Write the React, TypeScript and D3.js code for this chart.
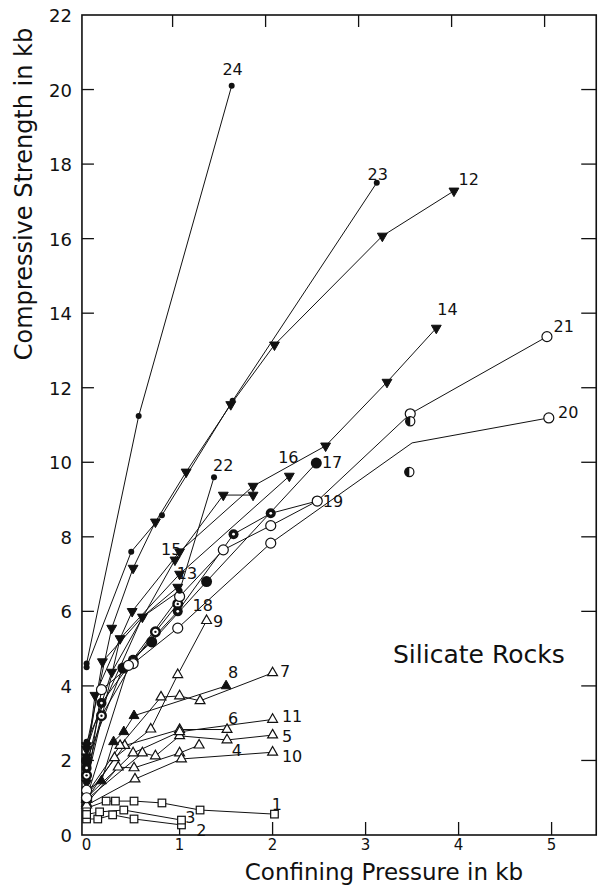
import React, { useEffect, useRef } from 'react';
import * as d3 from 'd3';

type Pt = [number, number];

// series: [confining pressure kb, compressive strength kb]
const s1: Pt[] = [[0, 0.72], [0.21, 0.91], [0.31, 0.91], [0.51, 0.91], [0.81, 0.86], [1.22, 0.67], [2.02, 0.56]];
const s2: Pt[] = [[0, 0.43], [0.12, 0.43], [0.28, 0.54], [0.51, 0.43], [1.02, 0.27]];
const s3: Pt[] = [[0, 0.55], [0.14, 0.62], [0.4, 0.67], [1.02, 0.4]];
const s4: Pt[] = [[0, 0.85], [0.34, 1.82], [0.51, 1.8], [1.0, 2.2], [1.21, 2.41]];
const s5: Pt[] = [[0, 0.95], [0.6, 2.2], [0.74, 2.12], [1.0, 2.66], [1.51, 2.55], [2.0, 2.68]];
const s6: Pt[] = [[0, 1.05], [0.41, 2.4], [1.0, 2.83], [1.51, 2.83]];
const s7: Pt[] = [[0, 1.1], [0.36, 2.4], [0.8, 3.7], [1.0, 3.73], [1.22, 3.6], [2.0, 4.35]];
const s8: Pt[] = [[0, 1.2], [0.16, 1.45], [0.29, 2.5], [0.4, 2.77], [0.51, 3.2], [1.5, 4.0]];
const s9: Pt[] = [[0, 0.95], [0.3, 2.07], [0.69, 2.84], [0.98, 4.3], [1.29, 5.75]];
const s10: Pt[] = [[0, 0.8], [0.52, 1.5], [1.02, 2.04], [2.0, 2.22]];
const s11: Pt[] = [[0, 1.0], [0.5, 2.2], [1.0, 2.77], [2.0, 3.1]];
const s12: Pt[] = [[0, 2.4], [0.27, 5.55], [0.5, 7.16], [0.74, 8.4], [1.07, 9.74], [1.55, 11.55], [2.02, 13.15], [3.18, 16.07], [3.95, 17.28]];
const s13: Pt[] = [[0, 2.1], [0.17, 4.65], [0.6, 5.85], [0.98, 6.65]];
const s14: Pt[] = [[0, 1.9], [0.09, 3.75], [0.49, 6.0], [1.0, 7.6], [1.79, 9.36], [2.57, 10.44], [3.23, 12.15], [3.76, 13.6]];
const s15: Pt[] = [[0, 2.3], [0.27, 4.37], [0.95, 7.38], [1.47, 9.12], [1.79, 9.12]];
const s16: Pt[] = [[0, 1.4], [0.36, 5.27], [1.0, 7.0], [2.18, 9.63]];
const s17: Pt[] = [[0, 2.0], [0.39, 4.48], [0.7, 5.18], [1.29, 6.8], [2.47, 9.98]];
const s18: Pt[] = [[0, 1.6], [0.16, 3.2], [0.5, 4.65], [0.74, 5.45], [0.98, 6.2]];
const s19: Pt[] = [[0, 1.8], [0.16, 3.54], [0.5, 4.7], [0.98, 6.0], [1.58, 8.07], [1.98, 8.63], [2.48, 8.96]];
const s20: Pt[] = [[0, 1.2], [0.16, 3.9], [0.5, 4.6], [0.98, 5.55], [1.98, 7.83], [3.5, 10.52], [4.97, 11.19]];
const s21: Pt[] = [[0, 1.0], [0.45, 4.55], [1.0, 6.4], [1.47, 7.65], [1.98, 8.3], [2.48, 8.96], [3.48, 11.3], [4.95, 13.37]];
const s22: Pt[] = [[0, 2.5], [0.6, 5.85], [1.0, 6.55], [1.37, 9.6]];
const s23: Pt[] = [[0, 4.5], [0.48, 7.6], [0.81, 8.58], [1.57, 11.65], [3.12, 17.5]];
const s24: Pt[] = [[0, 4.6], [0.56, 11.24], [1.56, 20.1]];

// loose half-filled points
const halfPts: Pt[] = [[3.47, 9.74], [3.48, 11.1]];

const seriesPts = [s1, s2, s3, s4, s5, s6, s7, s8, s9, s10, s11, s12, s13, s14, s15, s16, s17, s18, s19, s20, s21, s22, s23, s24];
const seriesMarks = [
  'square', 'square', 'square',
  'triOpen', 'triOpen', 'triOpen', 'triOpen', 'triFill', 'triOpen', 'triOpen', 'triOpen',
  'triDown', 'triDown', 'triDown', 'triDown', 'triDown',
  'big', 'ring', 'bull', 'open', 'open', 'dot', 'dot', 'dot',
];
// vertices drawn without a symbol: [series index, point index]
const bareVertices: [number, number][] = [[19, 5]];

const labelText = ['24', '23', '12', '14', '21', '20', '17', '19', '16', '22', '15', '13', '18', '9', '8', '7', '6', '11', '5', '4', '10', '3', '2'];
const labelPos: Pt[] = [
  [1.46, 20.4], [3.02, 17.57], [4.0, 17.44], [3.77, 13.95], [5.02, 13.5], [5.07, 11.19], [2.53, 9.85],
  [2.54, 8.8], [2.06, 9.98], [1.36, 9.77], [0.8, 7.51], [0.97, 6.87], [1.14, 6.01], [1.36, 5.58],
  [1.52, 4.21], [2.08, 4.24], [1.52, 2.98], [2.1, 3.03], [2.1, 2.5], [1.56, 2.12], [2.1, 1.96],
  [1.06, 0.32], [1.18, -0.03],
];
const label1Pos: Pt = [1.99, 0.67];

const xTicks = [0, 1, 2, 3, 4, 5];
const yTicks = [0, 2, 4, 6, 8, 10, 12, 14, 16, 18, 20, 22];

const WIDTH = 602;
const HEIGHT = 893;

const App: React.FC = () => {
  const svgRef = useRef<SVGSVGElement>(null);

  useEffect(() => {
    document.body.style.margin = '0';
    if (!svgRef.current) return;
    const svg = d3.select(svgRef.current);
    svg.selectAll('*').remove();

    const x = d3.scaleLinear().domain([0, 5]).range([86.6, 551.6]);
    const y = d3.scaleLinear().domain([0, 22]).range([835, 15]);

    const left = x(-0.05);
    const right = x(5.48);
    const top = y(22);
    const bottom = y(0);
    const font = '"DejaVu Sans", Verdana, sans-serif';

    // frame
    svg.append('rect')
      .attr('x', left).attr('y', top)
      .attr('width', right - left).attr('height', bottom - top)
      .attr('fill', 'none').attr('stroke', '#111').attr('stroke-width', 1.6);

    // ticks
    const inner = yTicks.filter(v => v > 0 && v < 22);
    svg.append('g').selectAll('line').data(inner).enter().append('line')
      .attr('x1', left).attr('x2', left + 12)
      .attr('y1', d => y(d)).attr('y2', d => y(d))
      .attr('stroke', '#111').attr('stroke-width', 1.3);
    svg.append('g').selectAll('line').data(inner).enter().append('line')
      .attr('x1', right - 15).attr('x2', right)
      .attr('y1', d => y(d)).attr('y2', d => y(d))
      .attr('stroke', '#111').attr('stroke-width', 1.3);
    const innerX = xTicks.filter(v => v > 0);
    svg.append('g').selectAll('line').data(innerX).enter().append('line')
      .attr('x1', d => x(d)).attr('x2', d => x(d))
      .attr('y1', bottom - 13).attr('y2', bottom)
      .attr('stroke', '#111').attr('stroke-width', 1.3);
    svg.append('g').selectAll('line').data(innerX).enter().append('line')
      .attr('x1', d => x(d) - 7).attr('x2', d => x(d) - 7)
      .attr('y1', top).attr('y2', top + 12)
      .attr('stroke', '#111').attr('stroke-width', 1.3);

    // tick labels
    svg.append('g').selectAll('text').data(yTicks).enter().append('text')
      .attr('x', 72).attr('y', d => y(d) + 7)
      .attr('text-anchor', 'end')
      .attr('font-family', font).attr('font-size', 18)
      .attr('fill', '#111')
      .text(d => String(d));
    svg.append('g').selectAll('text').data(xTicks).enter().append('text')
      .attr('x', d => x(d)).attr('y', 850)
      .attr('text-anchor', 'middle')
      .attr('font-family', font).attr('font-size', 15)
      .attr('fill', '#111')
      .text(d => String(d));

    // axis titles
    svg.append('text')
      .attr('transform', 'translate(32,194) rotate(-90)')
      .attr('text-anchor', 'middle')
      .attr('font-family', font).attr('font-size', 24)
      .attr('fill', '#111')
      .text('Compressive  Strength in kb');
    svg.append('text')
      .attr('x', 384).attr('y', 880)
      .attr('text-anchor', 'middle')
      .attr('font-family', font).attr('font-size', 23)
      .attr('fill', '#111')
      .text('Confining  Pressure in kb');
    svg.append('text')
      .attr('x', 393).attr('y', 663)
      .attr('font-family', font).attr('font-size', 25)
      .attr('fill', '#111')
      .text('Silicate Rocks');

    // lines
    const line = d3.line<Pt>().x(d => x(d[0])).y(d => y(d[1]));
    svg.append('g').selectAll('path').data(seriesPts).enter().append('path')
      .attr('d', d => line(d))
      .attr('fill', 'none')
      .attr('stroke', '#111')
      .attr('stroke-width', 1);

    // markers
    const tri = d3.symbol().type(d3.symbolTriangle).size(42)();
    const marks = svg.append('g');
    const drawMark = (kind: string, px: number, py: number) => {
      const g = marks.append('g').attr('transform', `translate(${px},${py})`);
      switch (kind) {
        case 'square':
          g.append('rect').attr('x', -3.8).attr('y', -3.8).attr('width', 7.6).attr('height', 7.6)
            .attr('fill', '#fff').attr('stroke', '#111').attr('stroke-width', 1.2);
          break;
        case 'triOpen':
          g.append('path').attr('d', tri).attr('fill', '#fff').attr('stroke', '#111').attr('stroke-width', 1.2);
          break;
        case 'triFill':
          g.append('path').attr('d', tri).attr('fill', '#111').attr('stroke', '#111').attr('stroke-width', 1);
          break;
        case 'triDown':
          g.append('path').attr('d', tri).attr('transform', 'rotate(180)')
            .attr('fill', '#111').attr('stroke', '#111').attr('stroke-width', 1);
          break;
        case 'big':
          g.append('circle').attr('r', 5.5).attr('fill', '#111');
          break;
        case 'ring':
          g.append('circle').attr('r', 4.3).attr('fill', '#fff').attr('stroke', '#111').attr('stroke-width', 2.4);
          g.append('circle').attr('r', 1.2).attr('fill', '#111');
          break;
        case 'bull':
          g.append('circle').attr('r', 5).attr('fill', '#111');
          g.append('circle').attr('r', 1.4).attr('fill', '#fff');
          break;
        case 'open':
          g.append('circle').attr('r', 5).attr('fill', '#fff').attr('stroke', '#111').attr('stroke-width', 1.2);
          break;
        case 'half':
          g.append('circle').attr('r', 4.6).attr('fill', '#fff').attr('stroke', '#111').attr('stroke-width', 1.2);
          g.append('path').attr('d', d3.arc()({ innerRadius: 0, outerRadius: 4.6, startAngle: Math.PI, endAngle: 2 * Math.PI }) as string)
            .attr('fill', '#111');
          break;
        default:
          g.append('circle').attr('r', 3).attr('fill', '#111');
      }
    };
    seriesPts.forEach((pts, si) => {
      pts.forEach((p, pi) => {
        if (bareVertices.some(b => b[0] === si && b[1] === pi)) return;
        drawMark(seriesMarks[si], x(p[0]), y(p[1]));
      });
    });
    halfPts.forEach(p => drawMark('half', x(p[0]), y(p[1])));

    // series numbers
    svg.append('g').selectAll('text').data(labelText).enter().append('text')
      .attr('x', (_, i) => x(labelPos[i][0]))
      .attr('y', (_, i) => y(labelPos[i][1]))
      .attr('font-family', font).attr('font-size', 16)
      .attr('fill', '#111')
      .text(d => d);
    svg.append('text')
      .attr('x', x(label1Pos[0])).attr('y', y(label1Pos[1]))
      .attr('font-family', font).attr('font-size', 16)
      .attr('fill', '#111')
      .text('1');
  }, []);

  return (
    <svg ref={svgRef} width={WIDTH} height={HEIGHT} style={{ display: 'block', background: '#fff' }} />
  );
};

export default App;
